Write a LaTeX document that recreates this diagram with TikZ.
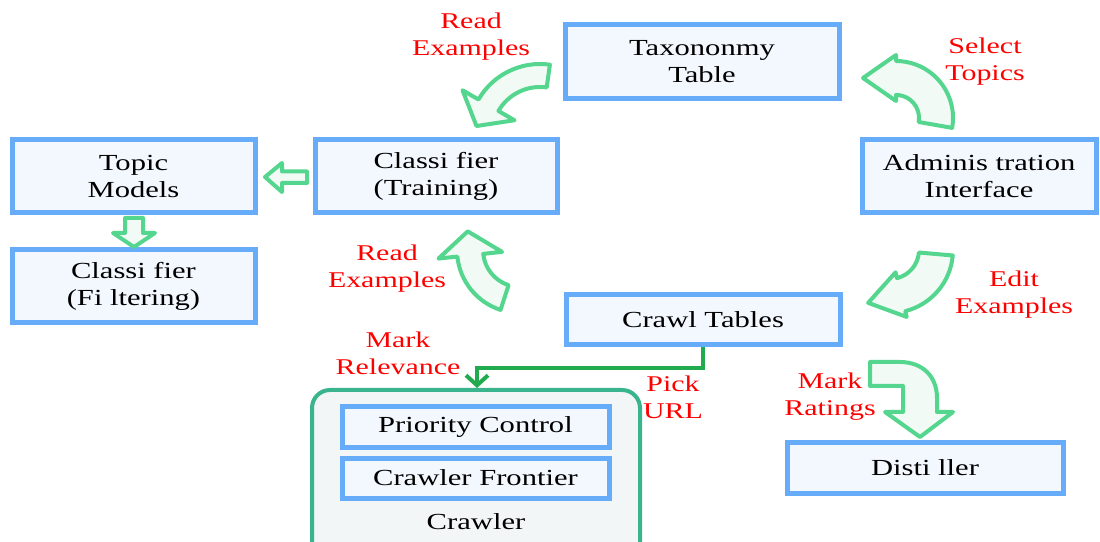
\documentclass[tikz,border=0pt]{standalone}
\usepackage{fontspec}
\setmainfont[FakeStretch=1.33]{Liberation Serif}
\usetikzlibrary{calc,arrows.meta}

\definecolor{boxline}{HTML}{66ACF8}
\definecolor{boxfill}{HTML}{F3F7FE}
\definecolor{flowline}{HTML}{55D68F}
\definecolor{flowfill}{HTML}{F2FAF5}
\definecolor{crawlline}{HTML}{3AB48C}
\definecolor{crawlfill}{HTML}{F3F6F6}
\definecolor{linkgreen}{HTML}{22AA4E}
\definecolor{labelred}{HTML}{FF0000}

% curved block arrow around a centre:
% #1 centre, #2 mid radius, #3 half band width, #4 start angle, #5 end angle,
% #6 half head width, #7 head length, #8 direction of the tip
\newcommand\bentflow[8]{%
  \draw[flow] ($#1+({#4}:{#2+#3})$)
    arc[start angle={#4}, end angle={#5}, radius={#2+#3}]
    -- ($#1+({#5}:{#2+#6})$)
    -- ($#1+({#5}:{#2})+({#8}:{#7})$)
    -- ($#1+({#5}:{#2-#6})$)
    -- ($#1+({#5}:{#2-#3})$)
    arc[start angle={#5}, end angle={#4}, radius={#2-#3}]
    -- cycle;}

\begin{document}
\begin{tikzpicture}[x=1pt, y=1pt,
  box/.style={draw=boxline, fill=boxfill, line width=5pt, align=center,
    inner sep=2pt, font=\fontsize{23}{27}\selectfont},
  lbl/.style={text=labelred, align=center, inner sep=0pt,
    font=\fontsize{22.5}{27}\selectfont},
  flow/.style={draw=flowline, fill=flowfill, line width=4pt, line join=round},
  link/.style={draw=linkgreen, line width=4pt,
    -{Straight Barb[length=10pt, width=22pt]}}]

\fill[white] (0,0) rectangle (1100,541);
\useasboundingbox (0,0) rectangle (1100,541);

% boxes
\node[box, minimum width=274, minimum height=74] (tax) at (702,541-62) {Taxononmy\\Table};
\node[box, minimum width=243, minimum height=73] (topic) at (133.5,541-176.5) {Topic\\Models};
\node[box, minimum width=242, minimum height=73] (train) at (436,541-176.5) {Classi fier\\(Training)};
\node[box, minimum width=234, minimum height=73] (admin) at (979,541-176.5) {Adminis tration\\Interface};
\node[box, minimum width=243, minimum height=73] (filter) at (133.5,541-286.5) {Classi fier\\(Fi ltering)};
\node[box, minimum width=274, minimum height=50] (ct) at (703,541-320) {Crawl Tables};
\node[box, minimum width=276, minimum height=51] (dist) at (925,541-467.5) {Disti ller};

% crawler group
\node[draw=crawlline, fill=crawlfill, line width=4pt, rounded corners=18pt,
  minimum width=328, minimum height=180] (crawler) at (476,541-480) {};
\node[box, minimum width=267, minimum height=40] (prio) at (475.5,541-427) {Priority Control};
\node[box, minimum width=267, minimum height=40] (front) at (475.5,541-478) {Crawler Frontier};
\node[font=\fontsize{23}{27}\selectfont, inner sep=0pt] (crawlname) at (476,541-522) {Crawler};

% link from the crawl tables into the crawler
\coordinate (bend) at (703,541-368);
\coordinate (drop) at (477,541-368);
\draw[link] (ct.south) -- (bend) -- (drop) -- (drop |- crawler.north);

% curved flow arrows
\bentflow{(540,541-135)}{59.5}{11.5}{82}{150}{30}{24}{240}
\bentflow{(896,541-118)}{40}{17}{-10}{90}{23}{33}{180}
\bentflow{(520,541-250)}{50}{13}{252}{186}{32}{24}{96}
\bentflow{(890,541-250)}{46}{17}{-5}{-76}{23}{34}{194}

% straight flow arrows
\draw[flow] (265,541-177) -- (282,541-163) -- (282,541-171.5) -- (307,541-171.5)
  -- (307,541-183) -- (282,541-183) -- (282,541-192) -- cycle;
\draw[flow] (125,541-218) -- (143,541-218) -- (143,541-233) -- (155,541-233)
  -- (134,541-247) -- (113,541-233) -- (125,541-233) -- cycle;

% bent arrow towards the distiller
\draw[flow] (870,541-362) -- (900,541-362)
  .. controls (922,541-362) and (937,541-376) .. (937,541-398)
  -- (937,541-412) -- (953,541-412) -- (920,541-437) -- (885,541-412)
  -- (903,541-412) -- (903,541-386) -- (870,541-386) -- cycle;

% labels
\node[lbl] (l1) at (471,541-36.5) {Read\\Examples};
\node[lbl] (l2) at (985,541-61.5) {Select\\Topics};
\node[lbl] (l3) at (387,541-268.5) {Read\\Examples};
\node[lbl] (l4) at (1014,541-295) {Edit\\Examples};
\node[lbl] (l5) at (398,541-353) {Mark\\Relevance};
\node[lbl] (l6) at (673,541-397) {Pick\\URL};
\node[lbl] (l7) at (830,541-397) {Mark\\Ratings};
\end{tikzpicture}
\end{document}
